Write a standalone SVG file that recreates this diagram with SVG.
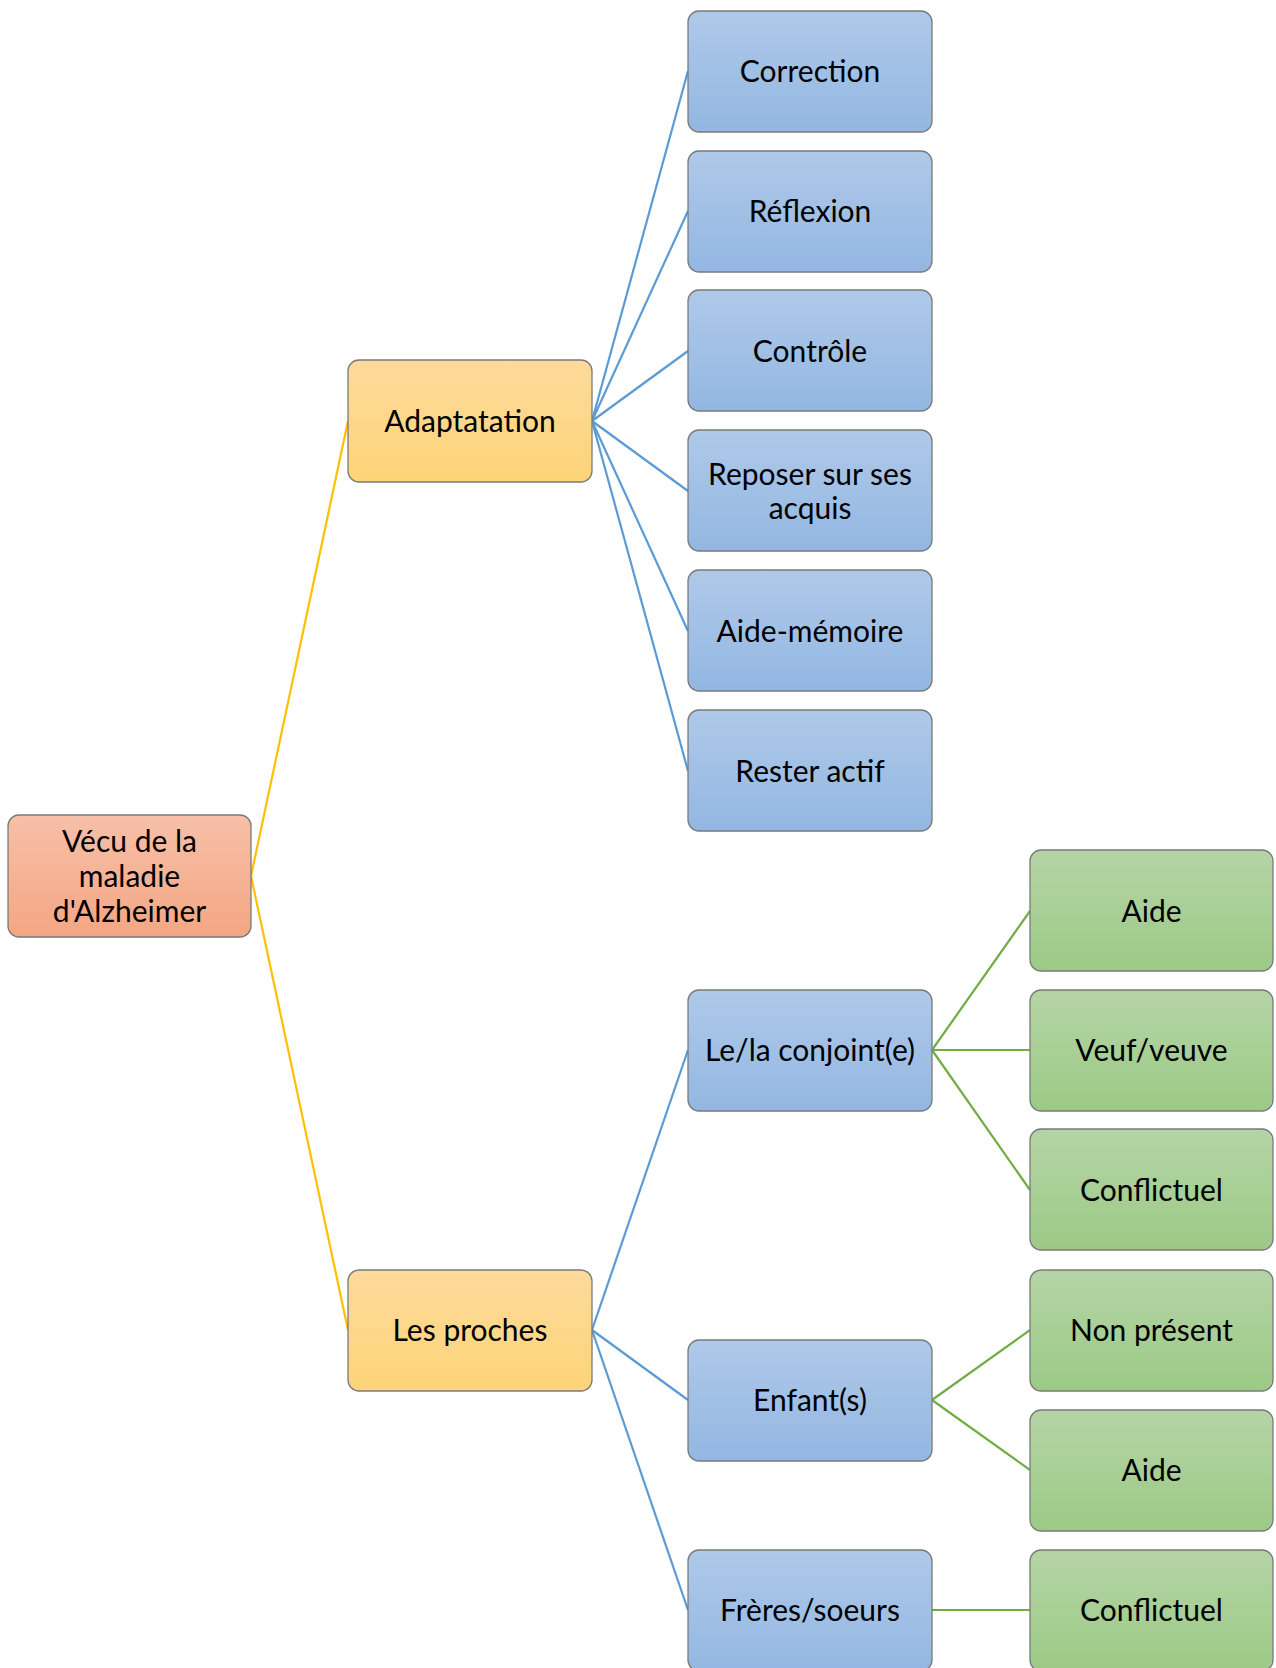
<svg xmlns="http://www.w3.org/2000/svg" width="1276" height="1668" viewBox="0 0 1276 1668">
<defs>
<linearGradient id="gRoot" x1="0" y1="0" x2="0" y2="1"><stop offset="0" stop-color="#F7C0A9"/><stop offset="1" stop-color="#F4A683"/></linearGradient>
<linearGradient id="gYel" x1="0" y1="0" x2="0" y2="1"><stop offset="0" stop-color="#FEDA9C"/><stop offset="1" stop-color="#FDD477"/></linearGradient>
<linearGradient id="gBlue" x1="0" y1="0" x2="0" y2="1"><stop offset="0" stop-color="#AFC9E9"/><stop offset="1" stop-color="#93B7E2"/></linearGradient>
<linearGradient id="gGreen" x1="0" y1="0" x2="0" y2="1"><stop offset="0" stop-color="#B5D4A6"/><stop offset="1" stop-color="#9CCA86"/></linearGradient>
</defs>
<style>
.box{stroke:#7A7A7A;stroke-width:1.3}
.root{fill:url(#gRoot)}
.yel{fill:url(#gYel)}
.blue{fill:url(#gBlue)}
.green{fill:url(#gGreen)}
text{font-family:Lato,"Liberation Sans",sans-serif;font-size:30px;fill:#000;text-anchor:middle;dominant-baseline:central}
.cy{stroke:#FFC000;stroke-width:2.2;fill:none}
.cb{stroke:#5B9BD5;stroke-width:2.2;fill:none}
.cg{stroke:#70AD47;stroke-width:2.2;fill:none}
</style>
<rect width="1276" height="1668" fill="#fff"/>
<g id="connectors">
<line class="cy" x1="251" y1="876" x2="348" y2="421"/>
<line class="cy" x1="251" y1="876" x2="348" y2="1330"/>
<line class="cb" x1="592" y1="421" x2="688" y2="71"/>
<line class="cb" x1="592" y1="421" x2="688" y2="211"/>
<line class="cb" x1="592" y1="421" x2="688" y2="351"/>
<line class="cb" x1="592" y1="421" x2="688" y2="491"/>
<line class="cb" x1="592" y1="421" x2="688" y2="631"/>
<line class="cb" x1="592" y1="421" x2="688" y2="771"/>
<line class="cb" x1="592" y1="1330" x2="688" y2="1050"/>
<line class="cb" x1="592" y1="1330" x2="688" y2="1400"/>
<line class="cb" x1="592" y1="1330" x2="688" y2="1610"/>
<line class="cg" x1="932" y1="1050" x2="1030" y2="911"/>
<line class="cg" x1="932" y1="1050" x2="1030" y2="1050"/>
<line class="cg" x1="932" y1="1050" x2="1030" y2="1190"/>
<line class="cg" x1="932" y1="1400" x2="1030" y2="1330"/>
<line class="cg" x1="932" y1="1400" x2="1030" y2="1470"/>
<line class="cg" x1="932" y1="1610" x2="1030" y2="1610"/>
</g>
<g id="root"><rect class="box root" x="8" y="815" width="243" height="122" rx="11"/><text x="129.5" y="839.5">Vécu de la</text><text x="129.5" y="874.5">maladie</text><text x="129.5" y="909.5">d'Alzheimer</text></g>
<g id="adaptatation"><rect class="box yel" x="348" y="360" width="244" height="122" rx="11"/><text x="470" y="419.5">Adaptatation</text></g>
<g id="proches"><rect class="box yel" x="348" y="1270" width="244" height="121" rx="11"/><text x="470" y="1328.5">Les proches</text></g>
<g id="correction"><rect class="box blue" x="688" y="11" width="244" height="121" rx="11"/><text x="810" y="69.5">Correction</text></g>
<g id="reflexion"><rect class="box blue" x="688" y="151" width="244" height="121" rx="11"/><text x="810" y="209.5">Réflexion</text></g>
<g id="controle"><rect class="box blue" x="688" y="290" width="244" height="121" rx="11"/><text x="810" y="349.5">Contrôle</text></g>
<g id="reposer"><rect class="box blue" x="688" y="430" width="244" height="121" rx="11"/><text x="810" y="472.5">Reposer sur ses</text><text x="810" y="506.5">acquis</text></g>
<g id="aidememoire"><rect class="box blue" x="688" y="570" width="244" height="121" rx="11"/><text x="810" y="629.5">Aide-mémoire</text></g>
<g id="resteractif"><rect class="box blue" x="688" y="710" width="244" height="121" rx="11"/><text x="810" y="769.5">Rester actif</text></g>
<g id="conjoint"><rect class="box blue" x="688" y="990" width="244" height="121" rx="11"/><text x="810" y="1048.5">Le/la conjoint(e)</text></g>
<g id="enfants"><rect class="box blue" x="688" y="1340" width="244" height="121" rx="11"/><text x="810" y="1398.5">Enfant(s)</text></g>
<g id="freres"><rect class="box blue" x="688" y="1550" width="244" height="121" rx="11"/><text x="810" y="1608.5">Frères/soeurs</text></g>
<g id="aide1"><rect class="box green" x="1030" y="850" width="243" height="121" rx="11"/><text x="1151.5" y="909.5">Aide</text></g>
<g id="veuf"><rect class="box green" x="1030" y="990" width="243" height="121" rx="11"/><text x="1151.5" y="1048.5">Veuf/veuve</text></g>
<g id="conflictuel1"><rect class="box green" x="1030" y="1129" width="243" height="121" rx="11"/><text x="1151.5" y="1188.5">Conflictuel</text></g>
<g id="nonpresent"><rect class="box green" x="1030" y="1270" width="243" height="121" rx="11"/><text x="1151.5" y="1328.5">Non présent</text></g>
<g id="aide2"><rect class="box green" x="1030" y="1410" width="243" height="121" rx="11"/><text x="1151.5" y="1468.5">Aide</text></g>
<g id="conflictuel2"><rect class="box green" x="1030" y="1550" width="243" height="121" rx="11"/><text x="1151.5" y="1608.5">Conflictuel</text></g>
</svg>
